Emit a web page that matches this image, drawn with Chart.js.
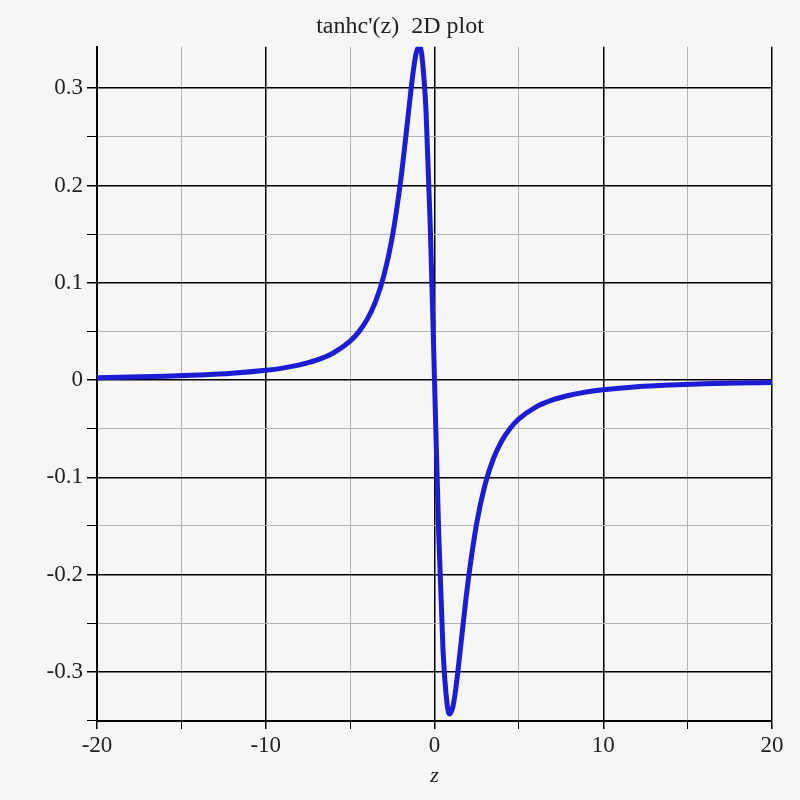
<!DOCTYPE html>
<html lang="en">
<head>
<meta charset="UTF-8">
<title>tanhc'(z) 2D plot</title>
<script src="https://cdn.jsdelivr.net/npm/chart.js"></script>
<style>
  html, body { margin: 0; padding: 0; background: #f6f6f6; }
  #wrap { width: 800px; height: 800px; }
</style>
</head>
<body>
<div id="wrap"><canvas id="plot" width="800" height="800"></canvas></div>
<script>
// curve (z, tanhc'(z))
const zValues = [-20, -18, -16, -14, -12, -10, -9, -8, -7, -6, -5, -4.5, -4, -3.5, -3, -2.5, -2, -1.75, -1.5, -1.25, -1.1, -0.9, -0.75, -0.5, -0.25,
                 0, 0.25, 0.5, 0.75, 0.9, 1.1, 1.25, 1.5, 1.75, 2, 2.5, 3, 3.5, 4, 4.5, 5, 6, 7, 8, 9, 10, 12, 14, 16, 18, 20];
const tanhcPrime = [0.0025, 0.0031, 0.0039, 0.0051, 0.0069, 0.0100, 0.0123, 0.0156, 0.0204, 0.0278, 0.0400, 0.0493, 0.0621, 0.0804, 0.1073, 0.1472, 0.2057, 0.2424, 0.2818, 0.3186, 0.3350, 0.3433, 0.3337, 0.2756, 0.158,
                    0, -0.158, -0.2756, -0.3337, -0.3433, -0.3350, -0.3186, -0.2818, -0.2424, -0.2057, -0.1472, -0.1073, -0.0804, -0.0621, -0.0493, -0.0400, -0.0278, -0.0204, -0.0156, -0.0123, -0.0100, -0.0069, -0.0051, -0.0039, -0.0031, -0.0025];

const xTicks = [-20, -15, -10, -5, 0, 5, 10, 15, 20];
const yTicks = [-0.35, -0.3, -0.25, -0.2, -0.15, -0.1, -0.05, 0, 0.05, 0.1, 0.15, 0.2, 0.25, 0.3];

const points = zValues.map((z, i) => ({ x: z, y: tanhcPrime[i] }));

const serif = "'Liberation Serif', 'DejaVu Serif', serif";
const isMajorX = v => Math.abs(v % 10) < 1e-9;
const isMajorY = v => Math.abs(v * 10 - Math.round(v * 10)) < 1e-6;

new Chart(document.getElementById('plot'), {
    type: 'scatter',
    data: {
        datasets: [{
            data: points,
            showLine: true,
            borderColor: '#1c1cd4',
            borderWidth: 5,
            pointRadius: 0,
            cubicInterpolationMode: 'monotone'
        }]
    },
    options: {
        responsive: false,
        animation: false,
        layout: { padding: 0 },
        plugins: {
            legend: { display: false },
            tooltip: { enabled: false },
            title: {
                display: true,
                text: "tanhc'(z)  2D plot",
                color: '#222',
                font: { family: serif, size: 24, weight: 'normal' },
                padding: { top: 12, bottom: 6 }
            }
        },
        scales: {
            x: {
                type: 'linear',
                min: -20,
                max: 20,
                afterBuildTicks: s => { s.ticks = xTicks.map(v => ({ value: v })); },
                afterFit: s => { s.height = 79; },
                grid: {
                    color: c => isMajorX(c.tick.value) ? '#000' : '#b4b4b4',
                    lineWidth: c => isMajorX(c.tick.value) ? 1.5 : 1,
                    tickColor: '#000',
                    tickLength: 8
                },
                border: { color: '#000', width: 2 },
                ticks: {
                    color: '#222',
                    font: { family: serif, size: 23 },
                    padding: 3,
                    maxRotation: 0,
                    callback: v => isMajorX(v) ? String(v) : ''
                },
                title: {
                    display: true,
                    text: 'z',
                    color: '#222',
                    font: { family: serif, size: 22, style: 'italic' },
                    padding: { top: 0, bottom: 11 }
                }
            },
            y: {
                type: 'linear',
                min: -0.3505,
                max: 0.3426,
                afterBuildTicks: s => { s.ticks = yTicks.map(v => ({ value: v })); },
                afterFit: s => { s.width = 97; },
                grid: {
                    color: c => isMajorY(c.tick.value) ? '#000' : '#b4b4b4',
                    lineWidth: c => isMajorY(c.tick.value) ? 1.5 : 1,
                    tickColor: '#000',
                    tickLength: 10
                },
                border: { color: '#000', width: 2 },
                ticks: {
                    color: '#222',
                    font: { family: serif, size: 23 },
                    padding: 4,
                    callback: v => isMajorY(v) ? String(Math.round(v * 10) / 10) : ''
                }
            },
            // empty strip on the right so the plot ends at z = 20 like the original
            yRight: {
                type: 'linear',
                position: 'right',
                display: true,
                afterFit: s => { s.width = 28; },
                grid: { display: false, drawTicks: false },
                border: { display: false },
                ticks: { display: false }
            }
        }
    }
});
</script>
</body>
</html>
